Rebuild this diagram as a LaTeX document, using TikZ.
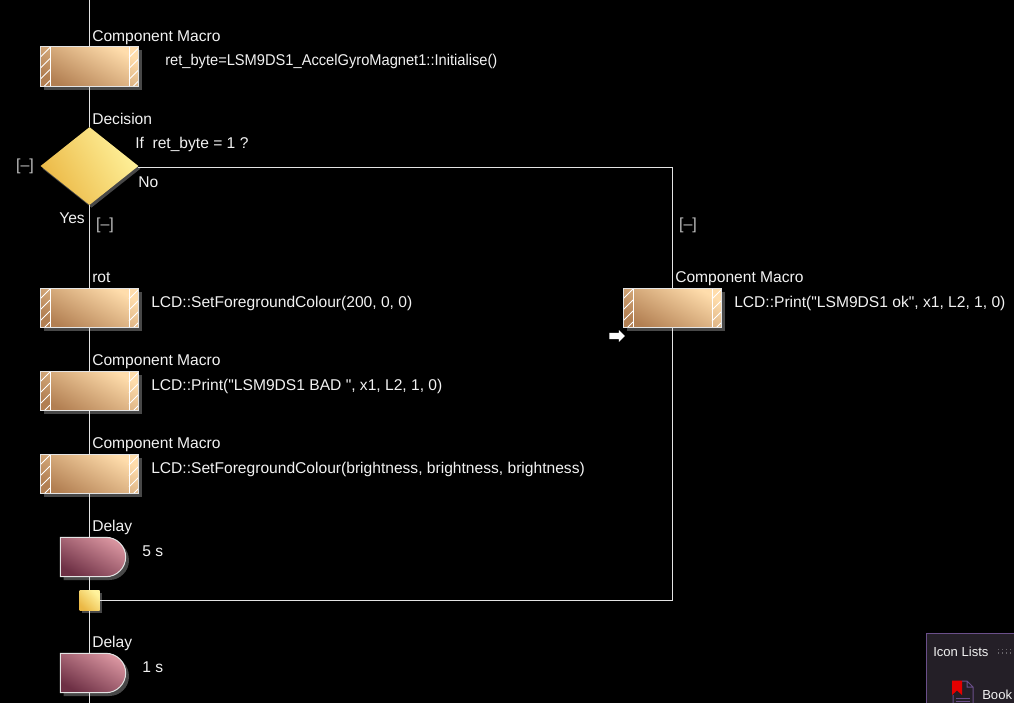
\documentclass[tikz,border=0pt]{standalone}
\usepackage{fontspec}
\newfontfamily\flowfont{Liberation Sans}
\usetikzlibrary{positioning, calc, shapes.geometric, shapes.misc, shapes.arrows, shadows}
\definecolor{Flow}{HTML}{E4E4E4}
\definecolor{Caption}{HTML}{F2F2F2}
\definecolor{Fold}{HTML}{BDBDBD}
\definecolor{Shade}{HTML}{484848}
\definecolor{MacroDark}{HTML}{B27F52}
\definecolor{MacroLight}{HTML}{FFDDAC}
\definecolor{DelayDark}{HTML}{6E3045}
\definecolor{DelayLight}{HTML}{D8949F}
\definecolor{GoldDark}{HTML}{EBB845}
\definecolor{GoldLight}{HTML}{FFF29C}
\definecolor{Panel}{HTML}{241F27}
\definecolor{PanelEdge}{HTML}{6A4F8A}
\tikzset{
    macrobox/.style={rectangle, minimum width=73.5pt, minimum height=29.5pt, inner sep=0pt, draw=Flow, line width=.75pt,
        left color=MacroDark, right color=MacroLight, shading angle=150,
        general shadow={fill=Shade, shadow xshift=2.5pt, shadow yshift=-2.5pt},
        path picture={
            \draw[white, line width=.6pt] (-39.5,-20) -- (-39.5,20) (39.5,-20) -- (39.5,20);
            \foreach \hy in {-30,-19,-8,3,14} {
                \draw[white, line width=.55pt] (-49.5,\hy+10) -- (-39.5,\hy) (39.5,\hy+10) -- (49.5,\hy);
            }
        }},
    delaybox/.style={rounded rectangle, rounded rectangle left arc=none, minimum width=49pt, minimum height=29.5pt, inner sep=0pt,
        draw=Flow, line width=.75pt, left color=DelayDark, right color=DelayLight, shading angle=150,
        general shadow={fill=Shade, shadow xshift=2.5pt, shadow yshift=-2.5pt}},
    decidebox/.style={diamond, minimum width=73.5pt, minimum height=58.5pt, inner sep=0pt,
        left color=GoldDark, right color=GoldLight, shading angle=120,
        general shadow={fill=Shade, shadow xshift=1.5pt, shadow yshift=-2pt}},
    joinbox/.style={rectangle, minimum size=15pt, inner sep=0pt, left color=GoldDark, right color=GoldLight, shading angle=135,
        general shadow={fill=Shade, shadow xshift=2pt, shadow yshift=-2pt}},
    flow/.style={draw=Flow, line width=.75pt},
    caption/.style={text=Caption, font=\flowfont\fontsize{11.7pt}{13pt}\selectfont, inner sep=0pt},
    foldmark/.style={text=Fold, font=\flowfont\fontsize{12pt}{14pt}\selectfont, inner sep=0pt},
    panellabel/.style={text=Caption, font=\flowfont\fontsize{9.8pt}{11pt}\selectfont, inner sep=0pt},
}
\begin{document}
\begin{tikzpicture}[x=0.75pt, y=-0.75pt]
    \useasboundingbox[fill=black] (0,0) rectangle (1014,703);

    \coordinate (top) at (89.5,0);
    \coordinate (bottom) at (89.5,703);
    \coordinate (noexit) at (138,167.5);

    \node[macrobox] (macroA) at (89.5,66.5) {};
    \node[decidebox] (decide) at (89.5,166) {};
    \node[macrobox] (rot) at (89.5,308) {};
    \node[macrobox] (macroB) at (89.5,391) {};
    \node[macrobox] (macroC) at (89.5,474) {};
    \node[delaybox] (delayA) at (93,557) {};
    \node[joinbox] (join) at (89.5,600.5) {};
    \node[delaybox] (delayB) at (93,673) {};
    \node[macrobox] (macroR) at (672.5,308) {};

    \draw[flow] (top) -- (macroA.north);
    \draw[flow] (macroA.south) -- (decide.north);
    \draw[flow] (decide.south) -- (rot.north);
    \draw[flow] (rot.south) -- (macroB.north);
    \draw[flow] (macroB.south) -- (macroC.north);
    \draw[flow] (macroC.south) -- (macroC.south |- delayA.north);
    \draw[flow] (macroC.south |- delayA.south) -- (join.north);
    \draw[flow] (join.south) -- (join.south |- delayB.north);
    \draw[flow] (macroC.south |- delayB.south) -- (bottom);
    \draw[flow] (noexit) -| (macroR.north);
    \draw[flow] (macroR.south) |- (join.east);

    % captions above the icons
    \node[caption, anchor=base west] (capA) at (92,41) {Component Macro};
    \node[caption, anchor=base west] (capD) at (92,124) {Decision};
    \node[caption, anchor=base west] (capRot) at (92,282) {rot};
    \node[caption, anchor=base west] (capB) at (92,365) {Component Macro};
    \node[caption, anchor=base west] (capC) at (92,448) {Component Macro};
    \node[caption, anchor=base west] (capE) at (92,531) {Delay};
    \node[caption, anchor=base west] (capF) at (92,647) {Delay};
    \node[caption, anchor=base west] (capR) at (675,282) {Component Macro};

    % text beside the icons
    \node[caption, anchor=base west] (txtA) at (165,65) {\scalebox{.94}[1]{ret\_byte=LSM9DS1\_AccelGyroMagnet1::Initialise()}};
    \node[caption, anchor=base west] (txtD) at (135,148) {If\ \ ret\_byte = 1 ?};
    \node[caption, anchor=base west] (txtNo) at (138,187) {No};
    \node[caption, anchor=base west] (txtYes) at (59,223) {Yes};
    \node[caption, anchor=base west] (txtRot) at (151,307) {LCD::SetForegroundColour(200, 0, 0)};
    \node[caption, anchor=base west] (txtB) at (151,390) {LCD::Print("LSM9DS1 BAD ", x1, L2, 1, 0)};
    \node[caption, anchor=base west] (txtC) at (151,473) {LCD::SetForegroundColour(brightness, brightness, brightness)};
    \node[caption, anchor=base west] (txtE) at (142,556) {5 s};
    \node[caption, anchor=base west] (txtF) at (142,672) {1 s};
    \node[caption, anchor=base west] (txtR) at (734,307) {LCD::Print("LSM9DS1 ok", x1, L2, 1, 0)};

    \node[foldmark] (foldA) at (25,166) {[–]};
    \node[foldmark] (foldB) at (105,225) {[–]};
    \node[foldmark] (foldC) at (688,225) {[–]};

    \node[single arrow, fill=white, inner xsep=0pt, inner ysep=2.2pt, minimum height=11.5pt, single arrow head extend=2pt] (cursor) at (615.5,336) {};

    % docked panel
    \node[rectangle, draw=PanelEdge, fill=Panel, line width=.75pt, minimum width=92pt, minimum height=60pt, anchor=north west] (panel) at (926,633) {};
    \node[panellabel, anchor=base west] (lists) at (933,656) {Icon Lists};
    \node[panellabel, anchor=base west] (book) at (982,699) {Book};
    \draw[PanelEdge, line width=.75pt] (953,695) -- (953,703) (962,681) -- (967,681) -- (973,687) -- (973,703) (967,681) -- (967,687) -- (973,687);
    \fill[red!90!black] (952,680.5) -- (962,680.5) -- (962,695) -- (957,690.5) -- (952,695) -- cycle;
    \draw[PanelEdge, line width=.7pt] (956,698) -- (970,698) (956,701.5) -- (970,701.5);
    \draw[Fold!45!Panel, line width=1pt, dotted] (998,649.5) -- (1014,649.5) (998,653) -- (1014,653);
\end{tikzpicture}
\end{document}
